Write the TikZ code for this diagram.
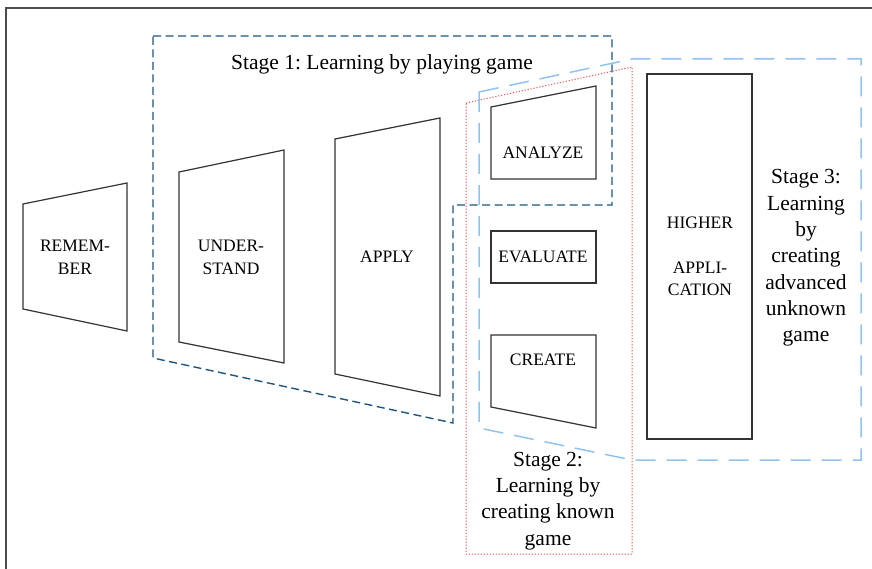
\documentclass[tikz,border=0pt]{standalone}
\usepackage{fontspec}
\setmainfont{Liberation Serif}
\definecolor{stageone}{RGB}{28,86,128}
\definecolor{stagetwo}{RGB}{222,90,84}
\definecolor{stagethree}{RGB}{146,194,238}
\frenchspacing

\begin{document}
\begin{tikzpicture}[x=1pt, y=-1pt,
	level/.style={draw=black!80, line width=1.2pt},
	lbl/.style={font=\fontsize{17.5}{22.5}\selectfont, align=center, inner sep=0pt},
	stagetxt/.style={font=\fontsize{21.5}{26.3}\selectfont, align=center, inner sep=0pt},
	onebox/.style={draw=stageone, line width=1.4pt, dash pattern=on 8pt off 4.5pt},
	twobox/.style={draw=stagetwo, line width=1pt, dash pattern=on 1.2pt off 1.8pt},
	threebox/.style={draw=stagethree, line width=1.5pt, dash pattern=on 20pt off 11pt}]
	\clip (0,0) rectangle (872,569);
	\draw[black!70, line width=1.5pt] (6,8) rectangle (900,600);
	% levels of the taxonomy
	\draw[level] (23,204) -- (127,183) -- (127,331) -- (23,309) -- cycle;
	\draw[level] (179,172) -- (284,150) -- (284,363) -- (179,342) -- cycle;
	\draw[level] (335,139) -- (440,118) -- (440,396) -- (335,374) -- cycle;
	\draw[level] (491,107) -- (596,86) -- (596,179) -- (491,179) -- cycle;
	\draw[level] (491,231) rectangle (596,283);
	\draw[level] (491,335) -- (596,335) -- (596,428) -- (491,407) -- cycle;
	\draw[level] (647,74) rectangle (752,439);
	\node[lbl] (remember) at (75,257.5) {REMEM-\\BER};
	\node[lbl] (understand) at (231,257.5) {UNDER-\\STAND};
	\node[lbl] (apply) at (387,257) {APPLY};
	\node[lbl] (analyze) at (543,153) {ANALYZE};
	\node[lbl] (evaluate) at (543,257) {EVALUATE};
	\node[lbl] (create) at (543,360) {CREATE};
	\node[lbl] (higher) at (700,256.5) {HIGHER\\\mbox{}\\APPLI-\\CATION};
	% stage outlines
	\draw[onebox] (153,36) -- (612,36) -- (612,205) -- (453,205) -- (453,423) -- (153,358) -- cycle;
	\draw[twobox] (466,103) -- (632,67) -- (632,554) -- (466,554) -- cycle;
	\draw[threebox] (479,92) -- (632,59) -- (861,59) -- (861,460) -- (632,460) -- (479,428) -- cycle;
	\node[stagetxt] (stage1) at (382,64) {Stage 1: Learning by playing game};
	\node[stagetxt] (stage2) at (548,501) {Stage 2:\\Learning by\\creating known\\game};
	\node[stagetxt] (stage3) at (806,258) {Stage 3:\\Learning\\by\\creating\\advanced\\unknown\\game};
\end{tikzpicture}
\end{document}
